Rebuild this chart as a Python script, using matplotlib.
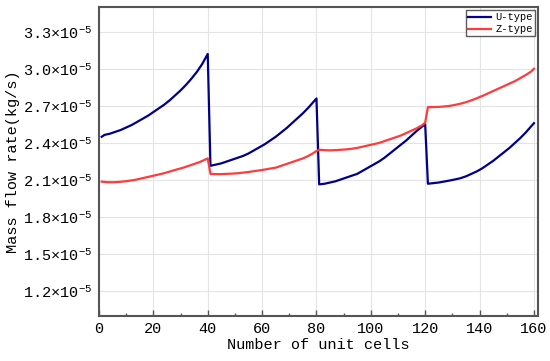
import matplotlib
matplotlib.use("Agg")
import matplotlib.pyplot as plt
from matplotlib.ticker import FixedLocator, MultipleLocator, FuncFormatter

plt.rcParams['font.family'] = ['Liberation Mono', 'DejaVu Sans']
plt.rcParams['mathtext.fontset'] = 'custom'
plt.rcParams['mathtext.rm'] = 'Liberation Mono'
plt.rcParams['mathtext.default'] = 'rm'

# Data (values in units of 1e-5 kg/s)
u_x = [1, 2, 4, 6, 8, 10, 12, 14, 16, 18, 20, 22, 24, 26, 28, 30, 32, 34, 36, 38, 40,
       41, 43, 45, 47, 49, 51, 53, 55, 57, 59, 61, 63, 65, 67, 69, 71, 73, 75, 77, 79, 80,
       81, 83, 85, 87, 89, 91, 93, 95, 97, 99, 101, 103, 105, 107, 109, 111, 113, 115, 117, 119, 120,
       121, 123, 125, 127, 129, 131, 133, 135, 137, 139, 141, 143, 145, 147, 149, 151, 153, 155, 157, 159, 160]
u_vals = [2.45, 2.465, 2.475, 2.49, 2.505, 2.525, 2.545, 2.57, 2.595, 2.62, 2.65, 2.68, 2.71, 2.745,
          2.785, 2.825, 2.87, 2.92, 2.975, 3.04, 3.12,
          2.215, 2.225, 2.235, 2.25, 2.265, 2.28, 2.295, 2.315, 2.34, 2.365, 2.39, 2.42, 2.45, 2.485,
          2.52, 2.56, 2.60, 2.64, 2.685, 2.735, 2.76,
          2.065, 2.07, 2.08, 2.09, 2.105, 2.12, 2.135, 2.15, 2.175, 2.20, 2.225, 2.25, 2.28, 2.315,
          2.35, 2.385, 2.42, 2.46, 2.50, 2.535, 2.55,
          2.07, 2.075, 2.08, 2.088, 2.096, 2.105, 2.115, 2.13, 2.15, 2.17, 2.195, 2.225, 2.255, 2.29,
          2.325, 2.36, 2.40, 2.44, 2.485, 2.535, 2.56]

z_x = [1, 3, 5, 7, 9, 11, 13, 15, 17, 19, 21, 23, 25, 27, 29, 31, 33, 35, 37, 39, 40,
       41, 43, 45, 47, 49, 51, 53, 55, 57, 59, 61, 63, 65, 67, 69, 71, 73, 75, 77, 79, 80,
       81, 83, 85, 87, 89, 91, 93, 95, 97, 99, 101, 103, 105, 107, 109, 111, 113, 115, 117, 119, 120,
       121, 123, 125, 127, 129, 131, 133, 135, 137, 139, 141, 143, 145, 147, 149, 151, 153, 155, 157, 159, 160]
z_vals = [2.087, 2.083, 2.082, 2.084, 2.088, 2.094, 2.10, 2.11, 2.12, 2.13, 2.14, 2.15, 2.162, 2.175,
          2.188, 2.20, 2.215, 2.23, 2.245, 2.265, 2.275,
          2.15, 2.148, 2.148, 2.15, 2.152, 2.155, 2.16, 2.165, 2.172, 2.178, 2.185, 2.193, 2.20, 2.215,
          2.23, 2.245, 2.26, 2.275, 2.295, 2.32, 2.335,
          2.345, 2.342, 2.34, 2.342, 2.345, 2.348, 2.353, 2.36, 2.37, 2.38, 2.39, 2.40, 2.415, 2.43,
          2.445, 2.46, 2.48, 2.50, 2.52, 2.545, 2.565,
          2.69, 2.69, 2.692, 2.695, 2.70, 2.708, 2.718, 2.73, 2.745, 2.762, 2.78, 2.80, 2.82, 2.84,
          2.86, 2.88, 2.90, 2.925, 2.95, 2.978, 3.00]

y_ticks = [1.2, 1.5, 1.8, 2.1, 2.4, 2.7, 3.0, 3.3]
x_ticks = [0, 20, 40, 60, 80, 100, 120, 140, 160]

scale = 1e-5
fig = plt.figure(figsize=(5.5, 3.61), dpi=100)
ax = fig.add_axes([99/550, 1-316/361, (538-99)/550, (316-7)/361])

ax.plot(u_x, [v*scale for v in u_vals], color='#00008b', lw=1.6, label='U-type')
ax.plot(z_x, [v*scale for v in z_vals], color='#ff3b3b', lw=1.6, label='Z-type')

ax.set_xlim(0, 161.5)
ax.set_ylim(1.0e-5, 3.5e-5)
ax.xaxis.set_major_locator(FixedLocator(x_ticks))
ax.xaxis.set_minor_locator(MultipleLocator(10))
ax.yaxis.set_major_locator(FixedLocator([v*scale for v in y_ticks]))
ax.yaxis.set_major_formatter(FuncFormatter(lambda v, p: '%.1f×10$^{-5}$' % (v/scale)))

ax.grid(True, color='#e4e4e4', lw=0.8)
ax.set_axisbelow(True)
ax.tick_params(axis='x', which='major', direction='in', length=4, width=1, color='#555555', labelsize=11, pad=4)
ax.tick_params(axis='x', which='minor', direction='in', length=2.5, width=1, color='#555555')
ax.tick_params(axis='y', which='major', direction='in', length=0, labelsize=11, pad=5)
for s in ax.spines.values():
    s.set_color('#555555')
    s.set_linewidth(1.5)

ax.set_xlabel('Number of unit cells', fontsize=11, labelpad=2)
ax.set_ylabel('Mass flow rate(kg/s)', fontsize=11, labelpad=2)

leg = ax.legend(loc='upper right', fontsize=7.5, frameon=True, fancybox=False,
                edgecolor='#333333', handlelength=2.2, borderpad=0.2,
                labelspacing=0.2, handletextpad=0.4, borderaxespad=0.3)
leg.get_frame().set_linewidth(1.0)

fig.savefig('out.png', dpi=100)
